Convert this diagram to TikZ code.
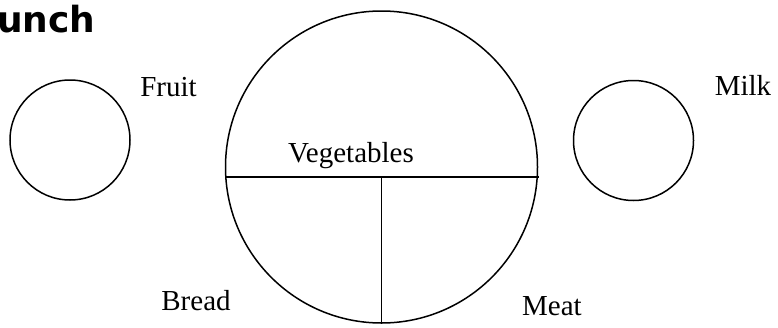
\documentclass[tikz,border=0pt]{standalone}
\usepackage{fontspec}
\setmainfont{Liberation Serif}
\newfontfamily\titlefont{DejaVu Sans}
\begin{document}
\begin{tikzpicture}[
    x=1pt,y=-1pt,
    dish/.style={draw,circle,line width=1.5pt,inner sep=0pt},
    lbl/.style={anchor=base,inner sep=0pt,font=\fontsize{29}{32}\selectfont},
    cut/.style={line width=1.5pt}
]
\useasboundingbox (0,0) rectangle (778,327);
\node[anchor=base west,inner sep=0pt,font=\titlefont\bfseries\fontsize{36}{40}\selectfont] (title) at (-3,32) {unch};
% plates
\node[dish,minimum size=120pt] (fruitdish) at (70,140) {};
\node[dish,minimum size=120pt] (milkdish) at (633.5,140.5) {};
\node[dish,minimum size=312pt] (plate) at (381.5,167) {};
% dividing lines on the plate
\coordinate (cutL) at (225.8,177);
\coordinate (cutR) at (539,177);
\coordinate (cutM) at (381.5,177);
\draw[cut] (cutL) -- (cutR);
\draw[cut] (cutM) -- (plate.south);
% labels
\node[lbl] (fruit) at (168.5,96) {Fruit};
\node[lbl] (veg) at (351,162) {Vegetables};
\node[lbl] (bread) at (196,310) {Bread};
\node[lbl] (meat) at (552,315) {Meat};
\node[lbl] (milk) at (743,95) {Milk};
\end{tikzpicture}
\end{document}
